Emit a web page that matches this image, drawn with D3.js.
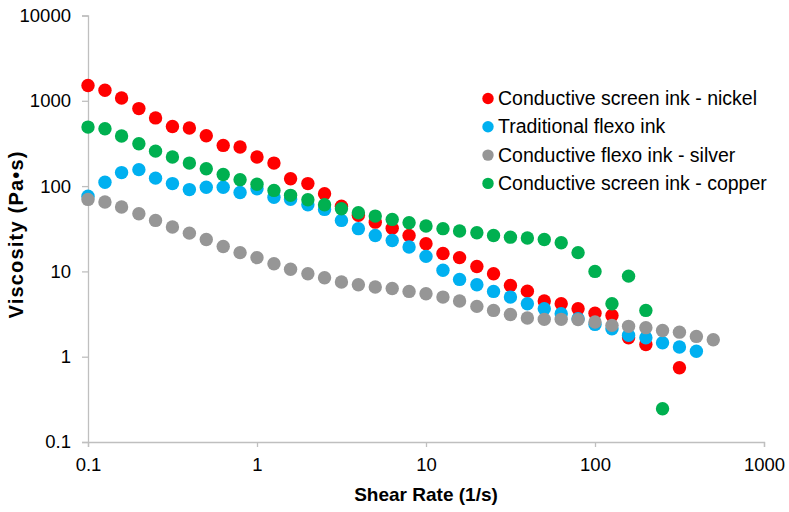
<!DOCTYPE html>
<html>
<head>
<meta charset="utf-8">
<script src="https://cdn.jsdelivr.net/npm/d3@7"></script>
<style>
  body { margin: 0; background: #fff; }
  svg { font-family: "Liberation Sans", Arial, sans-serif; }
</style>
</head>
<body>
<div class="canvas"><svg width="789" height="512"></svg></div>
<script>
// shear rates (1/s), 10 points per decade
var shearRates = [0.1, 0.126, 0.158, 0.2, 0.251, 0.316, 0.398, 0.501, 0.631, 0.794,
  1, 1.26, 1.58, 2, 2.51, 3.16, 3.98, 5.01, 6.31, 7.94,
  10, 12.6, 15.8, 20, 25.1, 31.6, 39.8, 50.1, 63.1, 79.4,
  100, 126, 158, 200, 251, 316, 398, 501];

// viscosity (Pa·s) per series
var nickel = [1510, 1330, 1080, 810, 630, 500, 480, 390, 300, 287,
  219, 186, 122, 107, 81.5, 58, 45.4, 37.8, 32, 26.4,
  21.1, 16.2, 14.5, 11.4, 9.4, 6.85, 5.87, 4.49, 4.18, 3.65,
  3.24, 3.05, 1.67, 1.39, null, 0.743];
var flexo = [76, 111, 144, 156, 124, 107, 91, 97, 97, 84,
  93, 74, 70, 60.5, 53.3, 39.6, 31.7, 26.4, 23, 19.3,
  15.0, 10.3, 8.06, 6.98, 5.83, 5.0, 4.18, 3.65, 3.19, 2.79,
  2.39, 2.13, 1.78, 1.67, 1.46, 1.30, 1.16];
var silver = [69.8, 65, 56.8, 47.5, 39.6, 33.1, 28.1, 23.7, 19.6, 16.6,
  14.5, 12.3, 10.6, 9.4, 8.43, 7.5, 6.98, 6.55, 6.3, 5.83,
  5.47, 5.0, 4.49, 3.89, 3.49, 3.13, 2.84, 2.74, 2.74, 2.72,
  2.55, 2.33, 2.27, 2.19, 2.03, 1.94, 1.73, 1.58];
var copper = [492, 471, 386, 314, 257, 219, 186, 160, 137, 119,
  105, 89, 77.9, 69.2, 60.5, 54.3, 48.7, 44.5, 40.7, 37.2,
  34.0, 31.7, 29.7, 28.4, 26.4, 25.2, 24.6, 23.7, 21.7, 16.6,
  10, 4.18, 8.8, 3.49, 0.245];

var seriesNames = ["Conductive screen ink - nickel", "Traditional flexo ink",
  "Conductive flexo ink - silver", "Conductive screen ink - copper"];
var seriesColors = ["#ff0000", "#00b0f0", "#969696", "#00b050"];
var seriesValues = [nickel, flexo, silver, copper];

var xTicks = [0.1, 1, 10, 100, 1000];
var yTicks = [0.1, 1, 10, 100, 1000, 10000];

var svg = d3.select(".canvas").select("svg");

var x = d3.scaleLog().domain([0.1, 1000]).range([88, 764]);
var y = d3.scaleLog().domain([0.1, 10000]).range([442, 15.5]);

var fmt = function(d) { return String(d); };

// axes
var xAxis = svg.append("g")
  .attr("transform", "translate(0,442)")
  .call(d3.axisBottom(x).tickValues(xTicks).tickFormat(fmt).tickSize(5).tickPadding(11));
var yAxis = svg.append("g")
  .attr("transform", "translate(88,0)")
  .call(d3.axisLeft(y).tickValues(yTicks).tickFormat(fmt).tickSize(6).tickPadding(11));

[xAxis, yAxis].forEach(function(a) {
  a.select(".domain").attr("stroke", "#bfbfbf").attr("stroke-width", 1.3);
  a.selectAll(".tick line").attr("stroke", "#bfbfbf").attr("stroke-width", 1.3);
  a.selectAll(".tick text")
    .attr("fill", "#000")
    .style("font-size", "18.5px")
    .style("font-family", "Liberation Sans, Arial, sans-serif");
});

// points
seriesValues.forEach(function(vals, i) {
  var pts = [];
  vals.forEach(function(v, j) {
    if (v != null) pts.push({ x: shearRates[j], y: v });
  });
  svg.append("g")
    .selectAll("circle")
    .data(pts)
    .enter().append("circle")
    .attr("cx", function(d) { return x(d.x); })
    .attr("cy", function(d) { return y(d.y); })
    .attr("r", 6.7)
    .style("fill", seriesColors[i]);
});

// axis titles
svg.append("text")
  .attr("x", 426)
  .attr("y", 501)
  .attr("text-anchor", "middle")
  .style("font-weight", "bold")
  .style("font-size", "19px")
  .text("Shear Rate (1/s)");

svg.append("text")
  .attr("transform", "translate(23,235) rotate(-90)")
  .attr("text-anchor", "middle")
  .attr("textLength", 167)
  .attr("lengthAdjust", "spacing")
  .style("font-weight", "bold")
  .style("font-size", "20px")
  .text("Viscosity (Pa•s)");

// legend
var legend = svg.append("g").attr("transform", "translate(488,98.5)");
seriesNames.forEach(function(name, i) {
  var row = legend.append("g").attr("transform", "translate(0," + (i * 28.3) + ")");
  row.append("circle").attr("r", 5.7).style("fill", seriesColors[i]);
  row.append("text")
    .attr("x", 10)
    .attr("y", 6.5)
    .style("font-size", "19.5px")
    .text(name);
});
</script>
</body>
</html>
